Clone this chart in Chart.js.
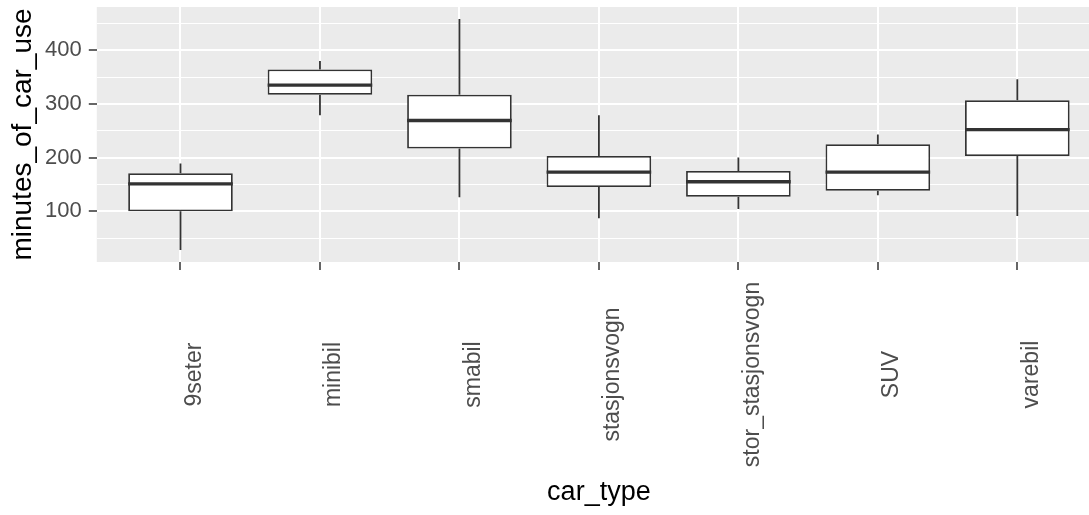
<!DOCTYPE html>
<html>
<head>
<meta charset="utf-8">
<script src="https://cdn.jsdelivr.net/npm/chart.js@4/dist/chart.umd.min.js"></script>
<style>
html, body { margin: 0; padding: 0; background: #ffffff; overflow: hidden; }
#wrap { position: absolute; left: 0; top: 0; width: 1101px; height: 515px; }
</style>
</head>
<body>
<div id="wrap"><canvas id="c"></canvas></div>
<script>
// ---- data ----
const categories  = ['9seter', 'minibil', 'smabil', 'stasjonsvogn', 'stor_stasjonsvogn', 'SUV', 'varebil'];
const whiskerLow  = [28, 279, 126, 87, 104, 130, 91];
const q1          = [100, 317, 217, 145, 127, 138, 203];
const median      = [151, 335, 269, 173, 155, 173, 252];
const q3          = [171, 364, 317, 203, 175, 225, 307];
const whiskerHigh = [189, 380, 458, 279, 200, 243, 346];
const yMajorTicks = [100, 200, 300, 400];
const yMinorTicks = [50, 150, 250, 350, 450];
const xTitle = 'car_type';
const yTitle = 'minutes_of_car_use';

const FONT = "'Liberation Sans', Arial, Helvetica, sans-serif";
const LINE = '#333333';

const panelBg = {
  id: 'panelBg',
  beforeDraw(chart) {
    const { ctx, chartArea: a } = chart;
    ctx.save();
    ctx.fillStyle = '#ffffff';
    ctx.fillRect(0, 0, chart.width, chart.height);
    ctx.fillStyle = '#EBEBEB';
    ctx.fillRect(a.left, a.top, a.right - a.left, a.bottom - a.top);
    ctx.restore();
  }
};

const boxParts = {
  id: 'boxParts',
  beforeDatasetsDraw(chart) {
    const { ctx } = chart;
    const xs = chart.scales.x, ys = chart.scales.y;
    ctx.save();
    ctx.strokeStyle = LINE;
    ctx.lineWidth = 1.8;
    ctx.beginPath();
    categories.forEach((c, i) => {
      const x = xs.getPixelForValue(i);
      ctx.moveTo(x, ys.getPixelForValue(q3[i]));
      ctx.lineTo(x, ys.getPixelForValue(whiskerHigh[i]));
      ctx.moveTo(x, ys.getPixelForValue(q1[i]));
      ctx.lineTo(x, ys.getPixelForValue(whiskerLow[i]));
    });
    ctx.stroke();
    ctx.restore();
  },
  afterDatasetsDraw(chart) {
    const { ctx } = chart;
    const xs = chart.scales.x, ys = chart.scales.y;
    const bars = chart.getDatasetMeta(0).data;
    ctx.save();
    ctx.strokeStyle = LINE;
    ctx.lineWidth = 3.4;
    ctx.beginPath();
    categories.forEach((c, i) => {
      const x = xs.getPixelForValue(i);
      const hw = bars[i].width / 2;
      const y = ys.getPixelForValue(median[i]);
      ctx.moveTo(x - hw, y);
      ctx.lineTo(x + hw, y);
    });
    ctx.stroke();
    ctx.restore();
  },
  afterDraw(chart) {
    const { ctx } = chart;
    const xs = chart.scales.x;
    ctx.save();
    ctx.fillStyle = '#4D4D4D';
    ctx.font = '23px ' + FONT;
    ctx.textAlign = 'center';
    ctx.textBaseline = 'alphabetic';
    categories.forEach((c, i) => {
      const x = xs.getPixelForValue(i);
      ctx.save();
      ctx.translate(x + 20.5, 374.5);
      ctx.rotate(-Math.PI / 2);
      ctx.fillText(c, 0, 0);
      ctx.restore();
    });
    ctx.restore();
  }
};

new Chart(document.getElementById('c'), {
  type: 'bar',
  data: {
    datasets: [{
      data: categories.map((c, i) => ({ x: i, y: [q1[i], q3[i]] })),
      backgroundColor: '#ffffff',
      borderColor: LINE,
      borderWidth: 1.8,
      borderSkipped: false,
      categoryPercentage: 1,
      barPercentage: 0.75
    }]
  },
  options: {
    responsive: true,
    maintainAspectRatio: false,
    animation: false,
    layout: { padding: { top: 7, left: 0, right: 0, bottom: 0 } },
    plugins: { legend: { display: false }, tooltip: { enabled: false } },
    scales: {
      x: {
        type: 'linear',
        offset: false,
        min: -0.6,
        max: 6.6,
        afterBuildTicks(scale) { scale.ticks = categories.map((c, i) => ({ value: i })); },
        afterFit(scale) {
          scale.height = 253;
          scale.paddingLeft = 0; scale.paddingRight = 0; scale.paddingTop = 0; scale.paddingBottom = 0;
        },
        ticks: { display: false },
        grid: {
          offset: false,
          color: '#ffffff',
          lineWidth: 2,
          drawTicks: true,
          tickLength: 8,
          tickColor: LINE,
          tickWidth: 1.5
        },
        border: { display: false },
        title: {
          display: true,
          text: xTitle,
          color: '#000000',
          font: { family: FONT, size: 27 },
          padding: { top: 0, bottom: 6.2 }
        }
      },
      y: {
        type: 'linear',
        min: 5.5,
        max: 480.5,
        afterBuildTicks(scale) {
          scale.ticks = yMinorTicks.concat(yMajorTicks).sort((a, b) => a - b).map(v => ({ value: v }));
        },
        afterFit(scale) {
          scale.width = 96.8;
          scale.paddingLeft = 0; scale.paddingRight = 0; scale.paddingTop = 0; scale.paddingBottom = 0;
        },
        ticks: {
          autoSkip: false,
          color: '#4D4D4D',
          font: { family: FONT, size: 22 },
          padding: 7,
          callback: (v) => yMajorTicks.includes(v) ? String(v) : ''
        },
        grid: {
          color: '#ffffff',
          lineWidth: (ctx) => (ctx.tick && yMajorTicks.includes(ctx.tick.value)) ? 2 : 1.1,
          drawTicks: true,
          tickLength: 8,
          tickColor: (ctx) => (ctx.tick && yMajorTicks.includes(ctx.tick.value)) ? LINE : 'rgba(0,0,0,0)',
          tickWidth: 1.5
        },
        border: { display: false },
        title: {
          display: true,
          text: yTitle,
          color: '#000000',
          font: { family: FONT, size: 28 },
          padding: { top: 6.5, bottom: 0 }
        }
      }
    }
  },
  plugins: [panelBg, boxParts]
});
</script>
</body>
</html>
